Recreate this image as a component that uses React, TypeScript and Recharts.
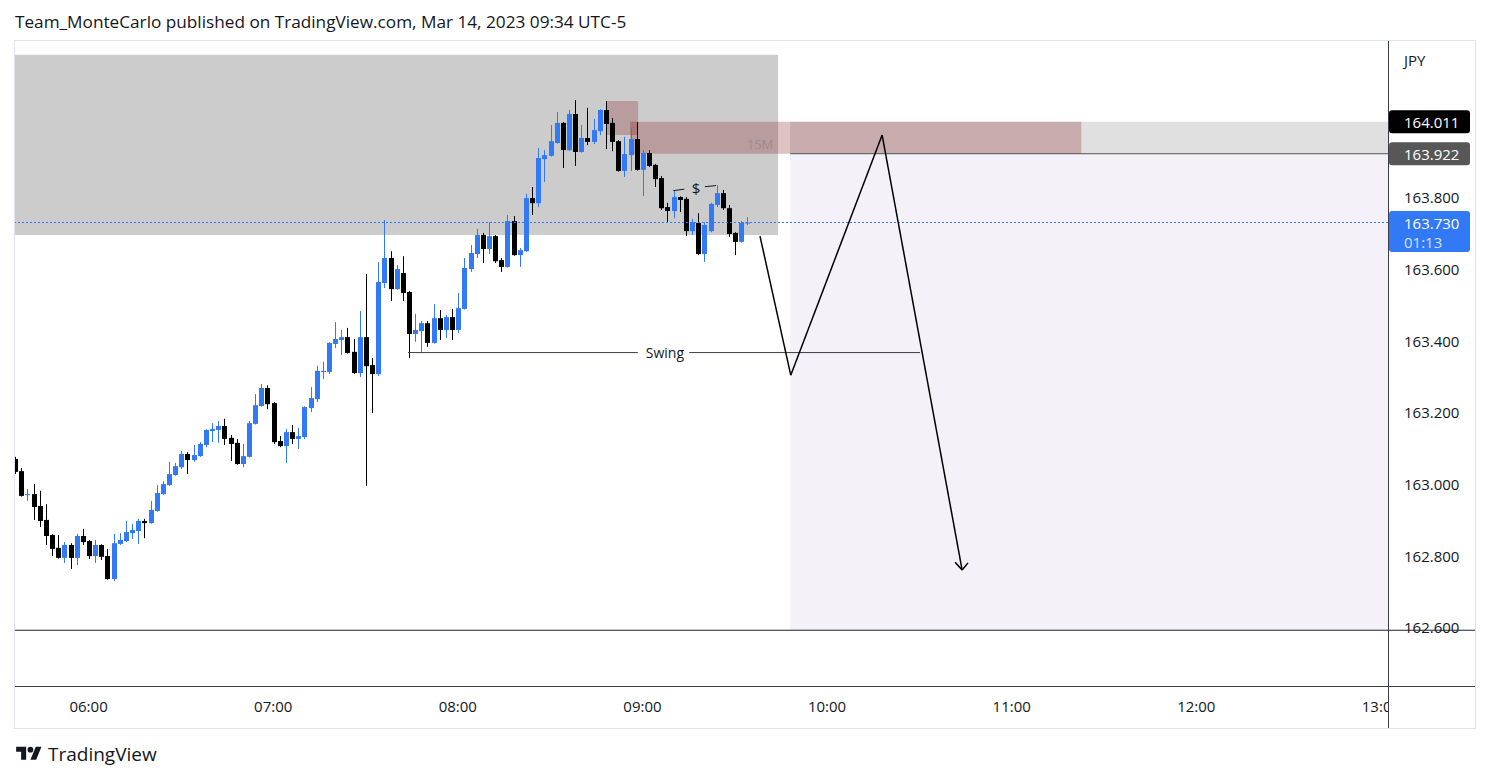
import React from 'react';
import {
  ComposedChart,
  Bar,
  XAxis,
  YAxis,
  ReferenceArea,
  ReferenceLine,
  ReferenceDot,
} from 'recharts';

// ---- Candle data (2-minute candles, minutes since 05:00) ----
const candleMinutes = [
  36, 38, 40, 42, 44, 46, 48, 50, 52, 54,
  56, 58, 60, 62, 64, 66, 68, 70, 72, 74,
  76, 78, 80, 82, 84, 86, 88, 90, 92, 94,
  96, 98, 100, 102, 104, 106, 108, 110, 112, 114,
  116, 118, 120, 122, 124, 126, 128, 130, 132, 134,
  136, 138, 140, 142, 144, 146, 148, 150, 152, 154,
  156, 158, 160, 162, 164, 166, 168, 170, 172, 174,
  176, 178, 180, 182, 184, 186, 188, 190, 192, 194,
  196, 198, 200, 202, 204, 206, 208, 210, 212, 214,
  216, 218, 220, 222, 224, 226, 228, 230, 232, 234,
  236, 238, 240, 242, 244, 246, 248, 250, 252, 254,
  256, 258, 260, 262, 264, 266, 268, 270, 272, 274,
];

const opens = [
  163.070, 163.036, 162.969, 162.972, 162.939, 162.900, 162.858, 162.822, 162.794, 162.830,
  162.794, 162.855, 162.841, 162.799, 162.830, 162.799, 162.735, 162.833, 162.841, 162.863,
  162.869, 162.897, 162.891, 162.925, 162.972, 162.997, 163.025, 163.047, 163.084, 163.067,
  163.078, 163.109, 163.148, 163.151, 163.162, 163.129, 163.115, 163.056, 163.076, 163.168,
  163.218, 163.268, 163.226, 163.120, 163.106, 163.145, 163.126, 163.131, 163.212, 163.237,
  163.313, 163.313, 163.391, 163.402, 163.410, 163.369, 163.310, 163.410, 163.332, 163.307,
  163.561, 163.631, 163.544, 163.589, 163.536, 163.419, 163.427, 163.449, 163.394, 163.463,
  163.430, 163.466, 163.430, 163.489, 163.600, 163.642, 163.695, 163.656, 163.692, 163.625,
  163.606, 163.734, 163.639, 163.650, 163.798, 163.784, 163.907, 163.916, 163.952, 164.008,
  163.932, 164.033, 163.927, 163.966, 163.955, 163.985, 164.044, 164.008, 163.957, 163.874,
  163.918, 163.963, 163.877, 163.924, 163.891, 163.854, 163.773, 163.762, 163.801, 163.796,
  163.706, 163.729, 163.642, 163.706, 163.779, 163.812, 163.770, 163.701, 163.676, 163.729,
];

const highs = [
  163.076, 163.045, 162.986, 163.000, 162.981, 162.944, 162.860, 162.858, 162.838, 162.835,
  162.861, 162.875, 162.844, 162.844, 162.832, 162.819, 162.861, 162.863, 162.897, 162.889,
  162.903, 162.903, 162.953, 162.997, 163.008, 163.062, 163.059, 163.092, 163.089, 163.109,
  163.117, 163.153, 163.170, 163.176, 163.182, 163.137, 163.126, 163.112, 163.176, 163.251,
  163.279, 163.276, 163.229, 163.134, 163.154, 163.165, 163.157, 163.217, 163.271, 163.330,
  163.341, 163.396, 163.452, 163.430, 163.436, 163.405, 163.483, 163.586, 163.352, 163.620,
  163.737, 163.650, 163.611, 163.636, 163.539, 163.475, 163.455, 163.455, 163.502, 163.486,
  163.472, 163.489, 163.533, 163.631, 163.667, 163.712, 163.701, 163.731, 163.695, 163.631,
  163.751, 163.748, 163.659, 163.810, 163.829, 163.938, 163.932, 164.002, 164.038, 164.010,
  164.044, 164.072, 164.002, 164.050, 164.019, 164.046, 164.069, 164.022, 163.960, 163.969,
  163.994, 164.010, 163.932, 163.932, 163.893, 163.860, 163.785, 163.818, 163.803, 163.801,
  163.740, 163.756, 163.731, 163.785, 163.835, 163.821, 163.779, 163.703, 163.734, 163.745,
];

const lows = [
  163.028, 162.965, 162.953, 162.900, 162.880, 162.830, 162.799, 162.792, 162.780, 162.763,
  162.774, 162.830, 162.791, 162.780, 162.788, 162.733, 162.729, 162.830, 162.838, 162.847,
  162.833, 162.849, 162.889, 162.923, 162.970, 162.995, 163.023, 163.042, 163.028, 163.062,
  163.076, 163.103, 163.117, 163.115, 163.109, 163.064, 163.054, 163.047, 163.074, 163.166,
  163.216, 163.209, 163.112, 163.103, 163.059, 163.112, 163.098, 163.126, 163.201, 163.229,
  163.293, 163.307, 163.380, 163.360, 163.364, 163.307, 163.299, 162.995, 163.198, 163.302,
  163.547, 163.511, 163.542, 163.511, 163.352, 163.397, 163.366, 163.383, 163.392, 163.402,
  163.408, 163.402, 163.422, 163.487, 163.592, 163.631, 163.617, 163.642, 163.617, 163.592,
  163.604, 163.637, 163.606, 163.648, 163.751, 163.773, 163.843, 163.914, 163.950, 163.882,
  163.930, 163.888, 163.925, 163.946, 163.949, 163.974, 163.935, 163.929, 163.872, 163.857,
  163.874, 163.875, 163.804, 163.885, 163.829, 163.765, 163.729, 163.742, 163.759, 163.692,
  163.695, 163.639, 163.620, 163.703, 163.773, 163.765, 163.690, 163.639, 163.674, 163.723,
];

const closes = [
  163.034, 162.967, 162.972, 162.936, 162.897, 162.855, 162.819, 162.794, 162.830, 162.794,
  162.855, 162.838, 162.799, 162.830, 162.797, 162.735, 162.835, 162.844, 162.866, 162.872,
  162.897, 162.891, 162.928, 162.975, 163.000, 163.028, 163.050, 163.084, 163.067, 163.081,
  163.112, 163.151, 163.154, 163.162, 163.126, 163.112, 163.056, 163.078, 163.170, 163.220,
  163.268, 163.223, 163.117, 163.106, 163.145, 163.126, 163.134, 163.215, 163.240, 163.316,
  163.316, 163.394, 163.405, 163.410, 163.366, 163.310, 163.410, 163.329, 163.307, 163.564,
  163.631, 163.544, 163.600, 163.533, 163.419, 163.430, 163.449, 163.394, 163.463, 163.430,
  163.466, 163.430, 163.491, 163.603, 163.645, 163.695, 163.656, 163.692, 163.622, 163.606,
  163.734, 163.639, 163.653, 163.798, 163.784, 163.910, 163.918, 163.957, 164.008, 163.932,
  164.033, 163.927, 163.966, 163.955, 163.988, 164.044, 164.005, 163.955, 163.874, 163.921,
  163.963, 163.877, 163.924, 163.888, 163.851, 163.770, 163.762, 163.801, 163.793, 163.706,
  163.731, 163.642, 163.723, 163.782, 163.812, 163.770, 163.698, 163.676, 163.729, 163.730,
];

// ---- Axes ----
const timeTicks = [60, 120, 180, 240, 300, 360, 420, 480];
const timeTickLabels = ['06:00', '07:00', '08:00', '09:00', '10:00', '11:00', '12:00', '13:00'];
const priceTicks = [162.6, 162.8, 163.0, 163.2, 163.4, 163.6, 163.8];
const X_DOMAIN: [number, number] = [36.08, 482.3];
const Y_DOMAIN: [number, number] = [162.4364, 164.2394];

// ---- Annotations (time minutes, price) ----
const premiumZone = { x1: 0, x2: 284.1, y1: 163.695, y2: 164.198 };
const smallOrderBlock = { x1: 228.2, x2: 238.6, y1: 163.974, y2: 164.069 };
const orderBlock15M = { x1: 236, x2: 382.6, y1: 163.922, y2: 164.011 };
const stopZone = { x1: 288, x2: 600, y1: 163.922, y2: 164.011 };
const targetZone = { x1: 288, x2: 600, y1: 162.592, y2: 163.922 };
const entryPrice = 163.922;
const stopPrice = 164.011;
const lastPrice = 163.73;
const countdown = '01:13';
const bottomLinePrice = 162.592;
const swingLevel = 163.367;
const swingSegments = [
  [163.8, 238.5],
  [255.2, 330.2],
];
const swingLabelAt = 247.3;
const arrowPath = [
  { x: 278.2, y: 163.692 },
  { x: 288.2, y: 163.304 },
  { x: 317.9, y: 163.974 },
  { x: 343.9, y: 162.76 },
];
const arrowHead = [
  { x: 341.6, y: 162.782 },
  { x: 345.8, y: 162.78 },
];
const liquidityMarks = [
  [{ x: 250.0, y: 163.819 }, { x: 253.6, y: 163.823 }],
  [{ x: 260.3, y: 163.83 }, { x: 263.9, y: 163.833 }],
];
const liquidityLabel = { x: 257.4, y: 163.826, text: '$' };
const obLabel = { x: 278.2, y: 163.949, text: '15M' };

const data = candleMinutes.map((t, i) => ({
  t,
  open: opens[i],
  high: highs[i],
  low: lows[i],
  close: closes[i],
  range: [lows[i], highs[i]],
}));

const FONT = "'Open Sans', 'Noto Sans', sans-serif";
const UP = '#3179f5';
const DOWN = '#000000';
const TEXT = '#131722';
const PLOT_W = 1373;

const Candle = (props: any) => {
  const { x, y, width, height } = props;
  const p = props.payload ?? props;
  const { open, close, high, low } = p;
  if (x == null || y == null) return null;
  const top = Math.min(y, y + height);
  const bottom = Math.max(y, y + height);
  const k = high - low > 0 ? (bottom - top) / (high - low) : 0;
  const yOf = (v: number) => top + (high - v) * k;
  const up = close >= open;
  const color = up ? UP : DOWN;
  const cx = Math.round(x + width / 2);
  const bTop = yOf(Math.max(open, close));
  const bBot = yOf(Math.min(open, close));
  return (
    <g>
      <line x1={cx + 0.5} x2={cx + 0.5} y1={top} y2={bottom} stroke={color} strokeWidth={1} />
      <rect x={cx - 2} y={bTop} width={5} height={Math.max(1, bBot - bTop)} fill={color} />
    </g>
  );
};

const TimeTick = (props: any) => {
  const { x, payload } = props;
  const idx = timeTicks.indexOf(payload.value);
  return (
    <g>
      <defs>
        <clipPath id={`tclip${idx}`}>
          <rect x={0} y={640} width={PLOT_W} height={47} />
        </clipPath>
      </defs>
      <text
        x={x}
        y={666}
        textAnchor="middle"
        dominantBaseline="central"
        fontSize={15}
        fontFamily={FONT}
        fill={TEXT}
        clipPath={`url(#tclip${idx})`}
      >
        {timeTickLabels[idx]}
      </text>
    </g>
  );
};

const PriceTick = (props: any) => {
  const { y, payload } = props;
  return (
    <text x={PLOT_W + 16} y={y} dominantBaseline="central" fontSize={15} fontFamily={FONT} fill={TEXT}>
      {Number(payload.value).toFixed(3)}
    </text>
  );
};

const PriceTag = (props: any) => {
  const { viewBox, tagText, bg, sub } = props;
  if (!viewBox) return null;
  const x0 = viewBox.x + viewBox.width + 1;
  const y0 = viewBox.y;
  const h = sub ? 41 : 23;
  const top = y0 - 11.5;
  return (
    <g>
      <rect x={x0} y={top} width={81} height={h} rx={3} fill={bg} />
      <text x={x0 + 15} y={y0} dominantBaseline="central" fontSize={15} fontFamily={FONT} fill="#ffffff">
        {tagText}
      </text>
      {sub ? (
        <text x={x0 + 15} y={y0 + 19} dominantBaseline="central" fontSize={15} fontFamily={FONT} fill="rgba(255,255,255,0.8)">
          {sub}
        </text>
      ) : null}
    </g>
  );
};

const ExtendLine = (props: any) => {
  const { viewBox } = props;
  if (!viewBox) return null;
  const x0 = viewBox.x + viewBox.width;
  return <line x1={x0} x2={x0 + 87} y1={viewBox.y} y2={viewBox.y} stroke="#1e222d" strokeWidth={1} />;
};

const TextMark = (props: any, text: string, size: number, color: string) => {
  const { cx, cy } = props;
  return (
    <text x={cx} y={cy} textAnchor="middle" dominantBaseline="central" fontSize={size} fontFamily={FONT} fill={color}>
      {text}
    </text>
  );
};

export default function App() {
  return (
    <div
      style={{
        position: 'absolute',
        left: 0,
        top: 0,
        width: 1490,
        height: 781,
        background: '#ffffff',
        overflow: 'hidden',
        fontFamily: FONT,
      }}
    >
      <div
        style={{
          position: 'absolute',
          left: 15,
          top: 10,
          fontSize: 17.2,
          lineHeight: '24px',
          color: TEXT,
          whiteSpace: 'nowrap',
        }}
      >
        Team_MonteCarlo published on TradingView.com, Mar 14, 2023 09:34 UTC-5
      </div>

      <div
        style={{
          position: 'absolute',
          left: 14,
          top: 40,
          width: 1462,
          height: 689,
          boxSizing: 'border-box',
          border: '1px solid #e0e3eb',
        }}
      />

      <div style={{ position: 'absolute', left: 15, top: 40 }}>
        <ComposedChart width={1460} height={687} data={data} margin={{ top: 0, right: 0, bottom: 0, left: 0 }}>
          <XAxis
            dataKey="t"
            type="number"
            domain={X_DOMAIN}
            allowDataOverflow
            ticks={timeTicks}
            interval={0}
            height={41}
            axisLine={false}
            tickLine={false}
            tick={(p: any) => <TimeTick {...p} />}
          />
          <YAxis
            orientation="right"
            type="number"
            domain={Y_DOMAIN}
            allowDataOverflow
            ticks={priceTicks}
            interval={0}
            width={87}
            axisLine={false}
            tickLine={false}
            tick={(p: any) => <PriceTick {...p} />}
          />

          <ReferenceArea {...premiumZone} fill="#cccccc" fillOpacity={1} stroke="none" ifOverflow="hidden" />
          <ReferenceArea {...targetZone} fill="#f4f1f8" fillOpacity={1} stroke="none" ifOverflow="hidden" />
          <ReferenceArea {...stopZone} fill="#e0e0e0" fillOpacity={1} stroke="none" ifOverflow="hidden" />
          <ReferenceArea {...smallOrderBlock} fill="rgb(128,12,20)" fillOpacity={0.25} stroke="none" ifOverflow="hidden" />
          <ReferenceArea {...orderBlock15M} fill="rgb(128,12,20)" fillOpacity={0.25} stroke="none" ifOverflow="hidden" />

          <ReferenceDot
            x={obLabel.x}
            y={obLabel.y}
            r={0}
            ifOverflow="visible"
            shape={(p: any) => TextMark(p, obLabel.text, 13, '#a08a8c')}
          />

          <Bar dataKey="range" barSize={5} isAnimationActive={false} shape={(p: any) => <Candle {...p} />} />

          <ReferenceLine
            y={lastPrice}
            stroke={UP}
            strokeDasharray="2 2"
            strokeWidth={1}
            label={(p: any) => <PriceTag {...p} tagText={lastPrice.toFixed(3)} bg={UP} sub={countdown} />}
          />
          <ReferenceLine
            segment={[{ x: targetZone.x1, y: entryPrice }, { x: X_DOMAIN[1], y: entryPrice }]}
            stroke="#555555"
            strokeWidth={1}
            ifOverflow="visible"
          />
          <ReferenceLine
            y={entryPrice}
            stroke="none"
            strokeOpacity={0}
            label={(p: any) => <PriceTag {...p} tagText={entryPrice.toFixed(3)} bg="#575757" />}
          />
          <ReferenceLine
            y={stopPrice}
            stroke="none"
            strokeOpacity={0}
            label={(p: any) => <PriceTag {...p} tagText={stopPrice.toFixed(3)} bg="#000000" />}
          />
          <ReferenceLine
            y={bottomLinePrice}
            stroke="#1e222d"
            strokeWidth={1}
            label={(p: any) => <ExtendLine {...p} />}
          />

          {swingSegments.map((s, i) => (
            <ReferenceLine
              key={`sw${i}`}
              segment={[{ x: s[0], y: swingLevel }, { x: s[1], y: swingLevel }]}
              stroke="#3a3d45"
              strokeWidth={1}
            />
          ))}
          <ReferenceDot
            x={swingLabelAt}
            y={swingLevel}
            r={0}
            ifOverflow="visible"
            shape={(p: any) => TextMark(p, 'Swing', 14, TEXT)}
          />

          {arrowPath.slice(1).map((pt, i) => (
            <ReferenceLine
              key={`ar${i}`}
              segment={[arrowPath[i], pt]}
              stroke="#000000"
              strokeWidth={1.5}
              ifOverflow="visible"
            />
          ))}
          {arrowHead.map((pt, i) => (
            <ReferenceLine
              key={`ah${i}`}
              segment={[arrowPath[arrowPath.length - 1], pt]}
              stroke="#000000"
              strokeWidth={1.5}
              ifOverflow="visible"
            />
          ))}

          {liquidityMarks.map((seg, i) => (
            <ReferenceLine key={`lq${i}`} segment={seg} stroke="#131722" strokeWidth={1} ifOverflow="visible" />
          ))}
          <ReferenceDot
            x={liquidityLabel.x}
            y={liquidityLabel.y}
            r={0}
            ifOverflow="visible"
            shape={(p: any) => TextMark(p, liquidityLabel.text, 15, TEXT)}
          />
        </ComposedChart>
      </div>

      {/* axis separators */}
      <div style={{ position: 'absolute', left: 1388, top: 41, width: 1, height: 687, background: '#3c3f47' }} />
      <div style={{ position: 'absolute', left: 15, top: 686, width: 1460, height: 1, background: '#3c3f47' }} />

      <div style={{ position: 'absolute', left: 1404, top: 50, fontSize: 15, lineHeight: '20px', color: TEXT }}>JPY</div>

      {/* footer */}
      <div style={{ position: 'absolute', left: 15, top: 744, display: 'flex', alignItems: 'center' }}>
        <svg width={28} height={20} viewBox="0 0 36 28">
          <path d="M14 22H7V11H0V4h14v18z" fill="#131722" />
          <circle cx={20} cy={8} r={4} fill="#131722" />
          <path d="M28 22h-8l7.5-18h8L28 22z" fill="#131722" />
        </svg>
        <span style={{ marginLeft: 5, fontSize: 19, fontWeight: 500, color: TEXT, lineHeight: '20px' }}>TradingView</span>
      </div>
    </div>
  );
}
